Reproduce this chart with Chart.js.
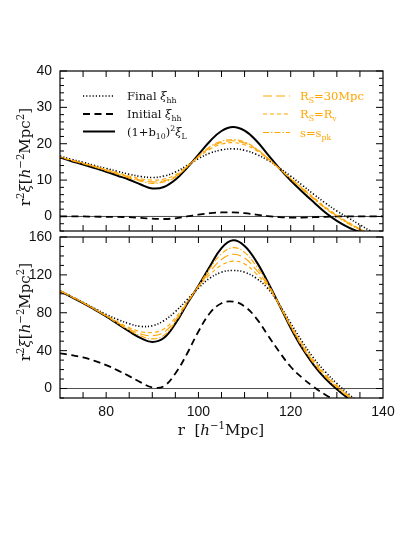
<!DOCTYPE html>
<html><head><meta charset="utf-8">
<script src="https://cdn.jsdelivr.net/npm/chart.js@4"></script>
<style>
html,body{margin:0;padding:0;background:#fff;}
#wrap{position:relative;width:415px;height:537px;background:#fff;}
canvas{position:absolute;left:0;top:0;}
</style></head><body>
<div id="wrap">
<canvas id="cTop" width="415" height="537"></canvas>
<canvas id="cBot" width="415" height="537"></canvas>
</div>
<script>
// ---- data ----
const r = [70,72.5,75,77.5,80,82.5,85,87.5,90,92.5,95,97.5,100,102.5,105,107.5,110,112.5,115,117.5,120,122.5,125,127.5,130,132.5,135,137.5,140];

// top panel: r^2 xi [h^-2 Mpc^2]
const finalTop = [16.6,15.7,14.9,14.0,13.2,12.4,11.6,11.0,10.7,11.1,12.2,14.0,15.9,17.4,18.3,18.6,18.2,17.1,15.5,13.4,11.1,8.6,6.1,3.7,1.5,-0.4,-2.3,-4.1,-5.5];
const initTop  = [0.0,0.0,0.0,-0.05,-0.1,-0.1,-0.2,-0.4,-0.6,-0.7,-0.5,0.0,0.5,0.9,1.1,1.1,0.9,0.5,0.1,-0.2,-0.3,-0.3,-0.2,-0.1,0.0,0.0,0.0,0.0,0.0];
const linTop   = [16.2,15.2,14.3,13.3,12.3,11.2,10.1,8.8,7.7,8.1,10.1,13.3,17.0,20.7,23.5,24.6,23.6,20.9,17.1,13.3,9.9,6.8,3.9,1.1,-1.2,-3.0,-4.3,-5.2,-5.8];
const rs30Top  = [16.3,15.4,14.6,13.7,12.8,11.8,10.8,10.0,9.5,9.8,11.0,13.6,16.5,18.9,20.4,20.8,20.2,18.5,16.0,13.2,10.4,7.7,5.0,2.4,0.2,-1.8,-3.5,-4.9,-5.7];
const rvTop    = [16.4,15.5,14.7,13.8,12.9,12.0,11.1,10.4,10.0,10.3,11.4,13.8,16.3,18.5,19.9,20.3,19.7,18.2,15.8,13.2,10.5,7.9,5.2,2.6,0.4,-1.6,-3.4,-4.8,-5.6];
const spkTop   = [16.3,15.4,14.5,13.6,12.6,11.6,10.6,9.7,9.1,9.5,10.8,13.5,16.6,19.2,20.7,21.1,20.5,18.7,16.1,13.2,10.3,7.5,4.8,2.2,0.0,-2.0,-3.7,-5.0,-5.8];

// bottom panel
const finalBot = [103.5,97.2,91.0,84.6,78.3,72.9,68.5,65.6,66.3,71.6,81.2,93.6,106.1,116.6,122.8,124.7,122.8,116.6,105.8,89.0,69.0,49.5,31.9,17.6,5.3,-5.5,-15,-22,-28];
const initBot  = [37.2,35.2,32.9,29.2,24.8,19.2,13.1,6.5,1.2,2.5,15.9,36.5,60.2,79.7,90.0,91.8,86.7,74.4,56.6,38.9,23.0,11.3,1.7,-6.5,-13,-18,-22,-25,-27];
const linBot   = [102.7,96.5,90.3,83.3,76.1,68.2,60.3,53.3,49.2,53.3,68.5,89.0,108.5,129.0,148.3,156.5,150.5,134.5,112.8,88.5,64.0,42.5,24.8,10.6,-0.7,-10.5,-19,-26,-31];
const rs30Bot  = [103.2,97.0,90.7,83.8,76.8,69.5,62.8,57.6,55.8,59.3,72.2,90.3,107.8,123.5,136.3,141.7,137.8,125.5,109.5,88.5,66.0,45.5,28.0,13.8,2.2,-8,-16,-23,-28];
const rvBot    = [103.3,97.1,90.8,84.0,77.2,70.5,64.3,60.1,59.2,62.8,74.8,91.3,107.3,120.3,130.3,134.5,131.6,121.3,107.8,88.5,67.0,47.0,29.5,15.0,3.2,-7,-15,-22,-27];
const spkBot   = [103.0,96.8,90.6,83.6,76.5,68.8,61.6,55.6,52.4,56.0,70.3,89.8,108.3,127.0,142.3,148.8,143.8,129.5,111.2,88.5,65.0,44.0,26.5,12.5,1.0,-9,-17,-24,-29];

const xTicks = [80,100,120,140];
const yTicksTop = [0,10,20,30,40];
const yTicksBot = [0,40,80,120,160];

const labels = {
  fin: 'Final ~{ξ}_{hh}',
  init: 'Initial ~{ξ}_{hh}',
  lin: '(1+b_{10})^{2}~{ξ}_{L}',
  rs30: 'R_{S}=30Mpc',
  rv: 'R_{S}=R_{v}',
  spk: 's=s_{pk}'
};
const yTitle = 'r^{2}~{ξ}[~{h}^{−2}Mpc^{2}]';
const xTitle = 'r  [~{h}^{−1}Mpc]';

// ---- styles ----
const ORANGE = '#ffa500';
const style = {
  rs30: {borderColor: ORANGE, borderWidth: 1.1, borderDash: [9,4]},
  rv:   {borderColor: ORANGE, borderWidth: 1.1, borderDash: [4,3]},
  spk:  {borderColor: ORANGE, borderWidth: 1.1, borderDash: [6,2,1.5,2]},
  fin:  {borderColor: '#000', borderWidth: 1.6, borderDash: [1.2,2]},
  init: {borderColor: '#000', borderWidth: 1.8, borderDash: [7,4.5]},
  lin:  {borderColor: '#000', borderWidth: 2.0, borderDash: []}
};
const SERIF = '"DejaVu Serif", serif';
const SANS = '"Liberation Sans", Arial, sans-serif';

function pts(vals){ return r.map((x,i)=>({x:x, y:vals[i]})); }
function ds(key, vals){
  return Object.assign({key:key, label:labels[key], data:pts(vals), pointRadius:0, fill:false,
    tension:0.4, clip:0}, style[key]);
}

// ---- rich text ----
function parseRich(s){
  const out=[]; let i=0;
  const isMark = k => (s[k]==='_'||s[k]==='^'||s[k]==='~') && s[k+1]==='{';
  while(i<s.length){
    if(isMark(i)){
      const j=s.indexOf('}',i+2);
      out.push({t:s.slice(i+2,j), m:s[i]}); i=j+1;
    } else {
      let j=i; while(j<s.length && !isMark(j)) j++;
      out.push({t:s.slice(i,j), m:''}); i=j;
    }
  }
  return out;
}
function drawRich(ctx, s, x, y, size, family, color, align){
  const segs=parseRich(s);
  const fontFor = g => {
    const sz = (g.m==='_'||g.m==='^') ? size*0.68 : size;
    return (g.m==='~' ? 'italic ' : '') + sz.toFixed(1) + 'px ' + family;
  };
  let w=0;
  segs.forEach(g=>{ctx.font=fontFor(g); g.w=ctx.measureText(g.t).width; w+=g.w;});
  let cx = align==='center' ? x-w/2 : x;
  ctx.fillStyle=color; ctx.textAlign='left'; ctx.textBaseline='alphabetic';
  segs.forEach(g=>{
    ctx.font=fontFor(g);
    const dy = g.m==='_' ? size*0.3 : (g.m==='^' ? -size*0.4 : 0);
    ctx.fillText(g.t, cx, y+dy); cx+=g.w;
  });
}

// ---- decoration plugin: frame, inward ticks, zero line, legend, titles ----
const decor = {
  id:'decor',
  afterDraw(chart, args, o){
    const ctx=chart.ctx, a=chart.chartArea, xs=chart.scales.x, ys=chart.scales.y;
    ctx.save();
    ctx.strokeStyle='#000'; ctx.setLineDash([]);
    const y0=ys.getPixelForValue(0);
    ctx.lineWidth=0.7; ctx.beginPath(); ctx.moveTo(a.left,y0); ctx.lineTo(a.right,y0); ctx.stroke();
    ctx.lineWidth=1.2; ctx.strokeRect(a.left,a.top,a.right-a.left,a.bottom-a.top);
    ctx.lineWidth=1;
    const seg=(x1,y1,x2,y2)=>{ctx.beginPath();ctx.moveTo(x1,y1);ctx.lineTo(x2,y2);ctx.stroke();};
    for(let v=xs.min+o.xStep; v<xs.max-1e-6; v+=o.xStep){
      const px=xs.getPixelForValue(v);
      seg(px,a.bottom,px,a.bottom-6); seg(px,a.top,px,a.top+6);
    }
    for(let v=Math.ceil(ys.min/o.yMinor)*o.yMinor; v<=ys.max+1e-6; v+=o.yMinor){
      const py=ys.getPixelForValue(v);
      const major = Math.abs(v/o.yMajor - Math.round(v/o.yMajor))<1e-6;
      const L = major ? 7 : 4;
      seg(a.left,py,a.left+L,py); seg(a.right,py,a.right-L,py);
    }
    (o.legend||[]).forEach(it=>{
      const d = chart.data.datasets.find(q=>q.key===it.key);
      ctx.strokeStyle=d.borderColor; ctx.lineWidth=d.borderWidth; ctx.setLineDash(d.borderDash||[]);
      seg(it.x1, it.y, it.x2, it.y);
      ctx.setLineDash([]);
      drawRich(ctx, d.label, it.tx, it.y+4, 11.5, SERIF, it.color, 'left');
    });
    ctx.save();
    ctx.translate(25, o.yTitleY); ctx.rotate(-Math.PI/2);
    drawRich(ctx, yTitle, 0, 5, 15, SERIF, '#111', 'center');
    ctx.restore();
    if(o.xTitle){ drawRich(ctx, xTitle, 221, 435, 15, SERIF, '#111', 'center'); }
    ctx.restore();
  }
};

function makeChart(id, sets, yMin, yMax, yTicks, showX, padding, decorOpts){
  return new Chart(document.getElementById(id), {
    type:'line',
    data:{datasets:sets},
    options:{
      responsive:false, animation:false, devicePixelRatio:1,
      layout:{padding:padding},
      plugins:{legend:{display:false}, tooltip:{enabled:false}, decor:decorOpts},
      scales:{
        x:{type:'linear', min:70, max:140, display:showX,
           grid:{display:false, drawTicks:false}, border:{display:false},
           afterBuildTicks:s=>{s.ticks=xTicks.map(v=>({value:v}));},
           afterFit:s=>{ if(showX) s.height=30; },
           ticks:{autoSkip:false, maxRotation:0, padding:6, color:'#111', font:{family:SANS, size:14}}},
        y:{type:'linear', min:yMin, max:yMax,
           grid:{display:false, drawTicks:false}, border:{display:false},
           afterBuildTicks:s=>{s.ticks=yTicks.map(v=>({value:v}));},
           afterFit:s=>{s.width=60;},
           ticks:{padding:8, color:'#111', font:{family:SANS, size:14}}}
      }
    },
    plugins:[decor]
  });
}

const legendTop = [
  {key:'fin',  x1:83, x2:115, y:96,  tx:127, color:'#111'},
  {key:'init', x1:83, x2:115, y:114, tx:127, color:'#111'},
  {key:'lin',  x1:83, x2:115, y:131.5, tx:127, color:'#111'},
  {key:'rs30', x1:263, x2:290, y:96,  tx:300, color:ORANGE},
  {key:'rv',   x1:263, x2:290, y:114, tx:300, color:ORANGE},
  {key:'spk',  x1:263, x2:290, y:132.5, tx:300, color:ORANGE}
];

makeChart('cTop',
  [ds('rv',rvTop), ds('rs30',rs30Top), ds('spk',spkTop), ds('fin',finalTop), ds('init',initTop), ds('lin',linTop)],
  -4, 40, yTicksTop, false,
  {top:71, bottom:306, left:0, right:32},
  {xStep:5, yMinor:2, yMajor:10, yTitleY:157, legend:legendTop, xTitle:false});

makeChart('cBot',
  [ds('rv',rvBot), ds('rs30',rs30Bot), ds('spk',spkBot), ds('fin',finalBot), ds('init',initBot), ds('lin',linBot)],
  -10, 160, yTicksBot, true,
  {top:237, bottom:109, left:0, right:32},
  {xStep:5, yMinor:10, yMajor:40, yTitleY:312, legend:[], xTitle:true});
</script>
</body></html>
